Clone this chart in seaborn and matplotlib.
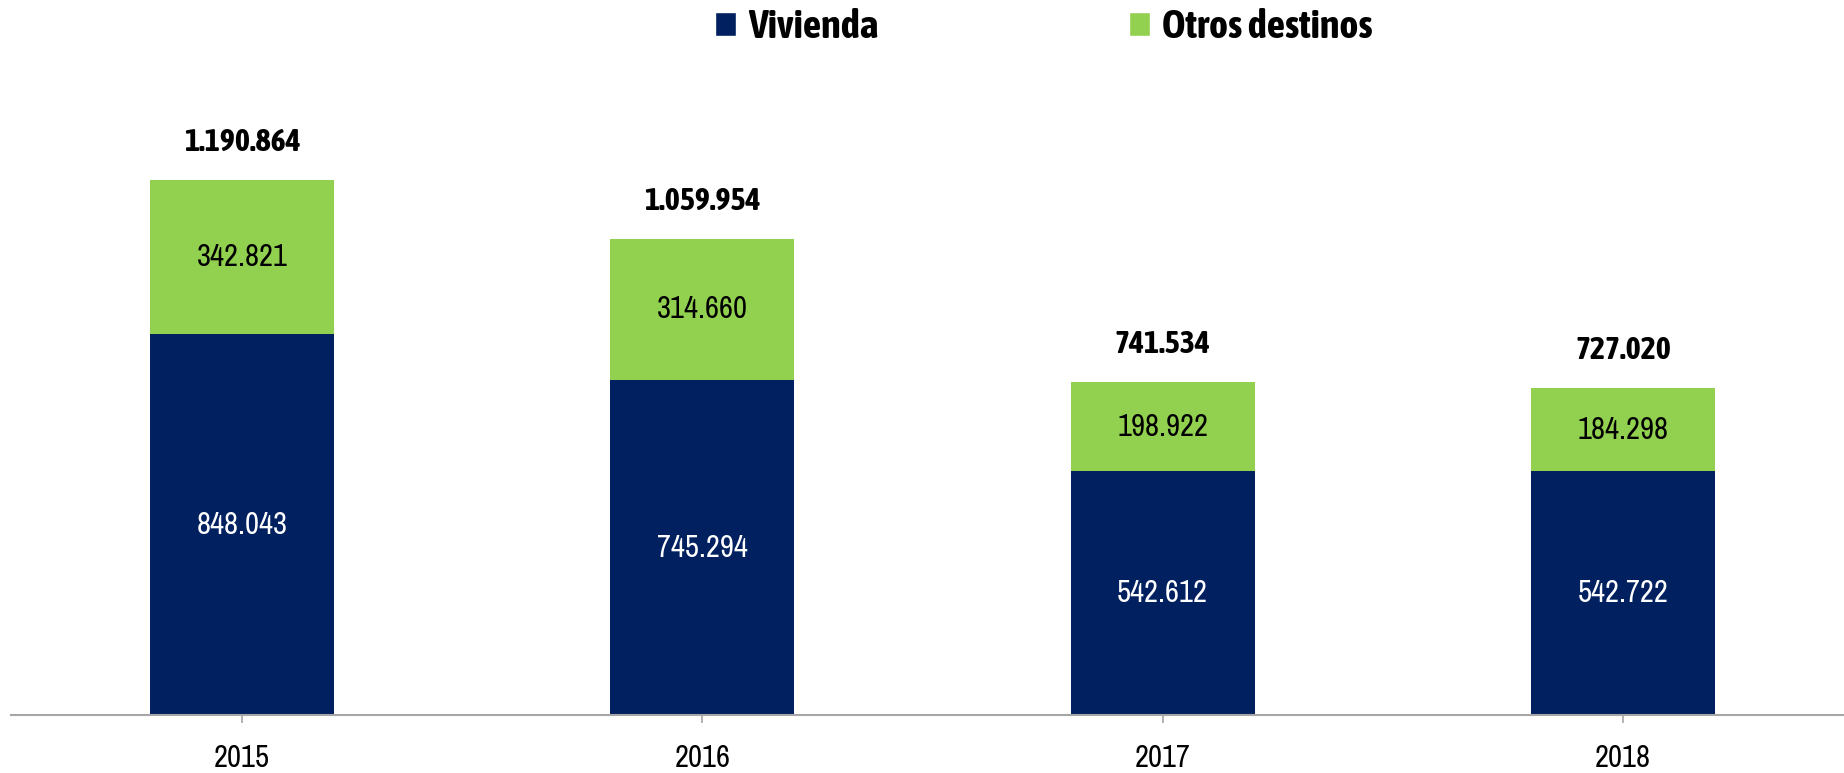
import matplotlib
matplotlib.use('Agg')
import matplotlib.pyplot as plt
from matplotlib import font_manager
from matplotlib.font_manager import FontProperties
import matplotlib.patheffects as pe
import seaborn as sns
import pandas as pd
from matplotlib.patches import Patch

years = ['2015', '2016', '2017', '2018']
vivienda = [848043, 745294, 542612, 542722]
otros = [342821, 314660, 198922, 184298]
series_names = ['Vivienda', 'Otros destinos']

navy = '#002060'
green = '#92D050'


def fmt(v):
    # miles con punto
    return f'{v:,}'.replace(',', '.')


def weight_num(w):
    if isinstance(w, str):
        return font_manager.weight_dict.get(w, 400)
    return int(w)


def pick_narrow(bold):
    # busca una fuente estrecha (condensed / narrow) instalada
    cands = []
    for f in font_manager.fontManager.ttflist:
        narrow = ('Condensed' in f.name or 'Narrow' in f.name
                  or f.stretch in ('condensed', 'semi-condensed', 'extra-condensed'))
        if not narrow or f.style != 'normal':
            continue
        cands.append((weight_num(f.weight), f.name, f.fname))
    if bold:
        cands = [c for c in cands if c[0] >= 600]
        cands.sort(key=lambda c: (abs(c[0] - 700), c[1]))
    else:
        cands = [c for c in cands if c[0] <= 450]
        cands.sort(key=lambda c: (abs(c[0] - 400), c[1]))
    return cands[0][2] if cands else None


sns.set_style('white')
reg_file = pick_narrow(False)
bold_file = pick_narrow(True)
fake_bold = []
if bold_file is None:
    bold_file = reg_file
    fake_bold = [pe.withStroke(linewidth=1.2, foreground='black')]


def fp(size, bold=False):
    f = bold_file if bold else reg_file
    if f is None:
        return FontProperties(family='DejaVu Sans', size=size,
                              weight='bold' if bold else 'normal')
    return FontProperties(fname=f, size=size)


df = pd.DataFrame({'year': years, 'vivienda': vivienda, 'otros': otros})
df['total'] = df['vivienda'] + df['otros']

fig = plt.figure(figsize=(18.44, 7.73), dpi=100)
ax = fig.add_axes([11 / 1844, 58 / 773, 1 - 11 / 1844, 715 / 773])

# barra total (verde) y encima la parte de vivienda (azul)
sns.barplot(data=df, x='year', y='total', color=green, width=0.4, saturation=1,
            edgecolor='none', ax=ax)
sns.barplot(data=df, x='year', y='vivienda', color=navy, width=0.4, saturation=1,
            edgecolor='none', ax=ax)

for i, row in df.iterrows():
    ax.text(i, row['vivienda'] / 2, fmt(row['vivienda']), ha='center', va='center',
            color='white', fontproperties=fp(22))
    ax.text(i, row['vivienda'] + row['otros'] / 2, fmt(row['otros']), ha='center',
            va='center', color='black', fontproperties=fp(22))
    ax.annotate(fmt(row['total']), xy=(i, row['total']), xytext=(0, 16),
                textcoords='offset points', ha='center', va='bottom',
                fontproperties=fp(23, True), color='black', path_effects=fake_bold)

ax.set_xlim(-0.502, 3.48)
ax.set_ylim(0, 1591540)
ax.set_xlabel('')
ax.set_ylabel('')
ax.set_yticks([])
for s in ['top', 'right', 'left']:
    ax.spines[s].set_visible(False)
ax.spines['bottom'].set_color('#A6A6A6')
ax.spines['bottom'].set_linewidth(1.5)
ax.tick_params(axis='x', length=6, width=1.2, color='#A6A6A6', pad=15, bottom=True)
for lab in ax.get_xticklabels():
    lab.set_fontproperties(fp(22))
    lab.set_color('black')

handles = [Patch(facecolor=navy, label=series_names[0]),
           Patch(facecolor=green, label=series_names[1])]
leg = fig.legend(handles=handles, loc='center', bbox_to_anchor=(0.566, 0.965), ncol=2,
                 frameon=False, prop=fp(29, True), labelcolor='black',
                 handlelength=0.54, handleheight=0.54, handletextpad=0.3,
                 columnspacing=6.2)
for t in leg.get_texts():
    t.set_path_effects(fake_bold)

fig.savefig('out.png', dpi=100)
